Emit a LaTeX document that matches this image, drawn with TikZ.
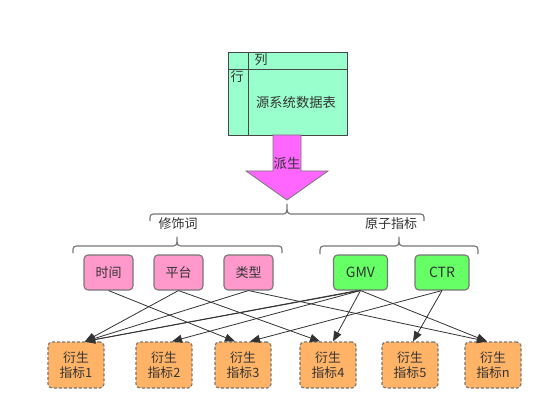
\documentclass[tikz,border=0pt]{standalone}
\usepackage{fontspec}
\setmainfont{Noto Sans CJK SC}
\usetikzlibrary{arrows.meta}
\definecolor{mint}{HTML}{99FFCC}
\definecolor{magen}{HTML}{FF66FF}
\definecolor{pinkf}{HTML}{FF99CC}
\definecolor{greenf}{HTML}{66FF66}
\definecolor{orangef}{HTML}{FFB366}
\definecolor{txt}{HTML}{333333}
\definecolor{edge}{HTML}{777777}
\definecolor{lnk}{HTML}{333333}
\tikzset{
  tbl/.style={draw=txt!90, line width=0.9pt},
  brc/.style={draw=edge, line width=1.2pt},
  pinkbox/.style={draw=edge, line width=1.1pt, fill=pinkf, rounded corners=4pt, minimum width=49pt, minimum height=35pt, inner sep=0pt},
  greenbox/.style={draw=edge, line width=1.1pt, fill=greenf, rounded corners=4pt, minimum width=54pt, minimum height=35pt, inner sep=0pt, font=\fontsize{14}{16}\selectfont},
  orbox/.style={draw=edge, line width=1.2pt, dash pattern=on 3pt off 2pt, fill=orangef, rounded corners=4pt, minimum width=56pt, minimum height=46pt, inner sep=0pt, align=center, font=\fontsize{12.8}{15.5}\selectfont},
  link/.style={draw=lnk, line width=0.8pt, -{Triangle[length=10pt,width=8pt]}},
  lbl/.style={inner sep=0pt}
}
\begin{document}
\begin{tikzpicture}[x=1pt,y=-1pt, font=\fontsize{13}{15}\selectfont, text=txt]
\useasboundingbox[fill=white] (0,0) rectangle (553,419);
% source table
\fill[mint] (228,52) rectangle (347,135);
\draw[tbl] (228,52) rectangle (347,135);
\draw[tbl] (228,69) -- (347,69);
\draw[tbl] (248,52) -- (248,135);
\node[lbl] (lie) at (261,60) {列};
\node[lbl] (hang) at (237,77) {行};
\node[lbl, font=\fontsize{13.3}{15}\selectfont] (src) at (296,102) {源系统数据表};
% big arrow
\draw[fill=magen, draw=edge, line width=0.8pt] (273,135) -- (301,135) -- (301,171) -- (328,171) -- (287,200) -- (246,171) -- (273,171) -- cycle;
\node[lbl, font=\fontsize{13.3}{15}\selectfont] (paisheng) at (287,163) {派生};
% braces
\draw[brc] (150,221) .. controls (150,214) .. (157,214) -- (280,214) .. controls (287,214) .. (287,204) .. controls (287,214) .. (294,214) -- (417,214) .. controls (424,214) .. (424,221);
\node[lbl] (xsc) at (178,224) {修饰词};
\node[lbl] (yzzb) at (391,224) {原子指标};
\draw[brc] (73,253) .. controls (73,246) .. (80,246) -- (170,246) .. controls (177,246) .. (177,237) .. controls (177,246) .. (184,246) -- (275,246) .. controls (282,246) .. (282,253);
\draw[brc] (320,254) .. controls (320,246) .. (327,246) -- (392,246) .. controls (399,246) .. (399,237) .. controls (399,246) .. (406,246) -- (471,246) .. controls (478,246) .. (478,254);
% modifier and atomic boxes
\node[pinkbox] (sj) at (108.5,272.5) {时间};
\node[pinkbox] (pt) at (178.5,272.5) {平台};
\node[pinkbox] (lx) at (248.5,272.5) {类型};
\node[greenbox] (gmv) at (360.5,272.5) {GMV};
\node[greenbox] (ctr) at (442,272.5) {CTR};
% derived boxes
\node[orbox] (d1) at (76,365) {衍生\\指标1};
\node[orbox] (d2) at (164,365) {衍生\\指标2};
\node[orbox] (d3) at (243,365) {衍生\\指标3};
\node[orbox] (d4) at (328,365) {衍生\\指标4};
\node[orbox] (d5) at (410,365) {衍生\\指标5};
\node[orbox] (dn) at (493,365) {衍生\\指标n};
% connectors
\draw[link] (sj.south) -- ([xshift=-8]d3.north);
\draw[link] (pt.south) -- ([xshift=9]d1.north);
\draw[link] (pt.south) -- ([xshift=-8]d4.north);
\draw[link] (lx.south) -- ([xshift=9]d1.north);
\draw[link] (lx.south) -- ([xshift=-6]dn.north);
\draw[link] (gmv.south) -- ([xshift=9]d1.north);
\draw[link] ([xshift=-3]gmv.south) -- ([xshift=9]d1.north);
\draw[link] (gmv.south) -- ([xshift=8]d2.north);
\draw[link] (gmv.south) -- ([xshift=5]d4.north);
\draw[link] (gmv.south) -- ([xshift=-6]dn.north);
\draw[link] (ctr.south) -- ([xshift=7]d3.north);
\draw[link] (ctr.south) -- ([xshift=3]d5.north);
\end{tikzpicture}
\end{document}
